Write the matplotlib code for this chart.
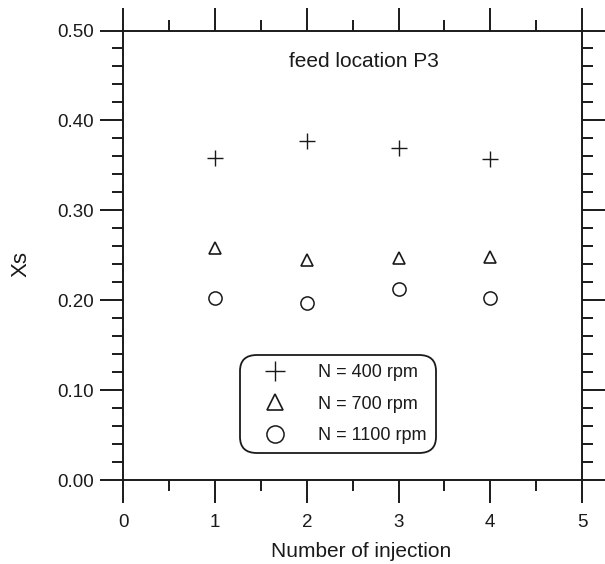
import matplotlib
matplotlib.use("Agg")
import matplotlib.pyplot as plt
from matplotlib.ticker import MultipleLocator, FormatStrFormatter

plt.rcParams['font.family'] = ['Liberation Sans', 'DejaVu Sans']

injections = [1, 2, 3, 4]
xs_400 = [0.358, 0.377, 0.369, 0.357]
xs_700 = [0.258, 0.245, 0.247, 0.248]
xs_1100 = [0.2025, 0.197, 0.2125, 0.2025]
labels = ["N = 400 rpm", "N = 700 rpm", "N = 1100 rpm"]
x_ticks = [0, 1, 2, 3, 4, 5]

fig = plt.figure(figsize=(6.05, 5.64), dpi=100)
ax = fig.add_axes([0.2041, 0.1489, 0.7579, 0.7970])
col = '#1a1a1a'

ax.plot(injections, xs_400, linestyle='none', marker='+', markersize=11,
        markeredgewidth=1.0, color=col, label=labels[0])
ax.plot(injections, xs_700, linestyle='none', marker='^', markersize=8.5,
        markeredgewidth=1.2, markerfacecolor='none', markeredgecolor=col, label=labels[1])
ax.plot(injections, xs_1100, linestyle='none', marker='o', markersize=9.5,
        markeredgewidth=1.1, markerfacecolor='none', markeredgecolor=col, label=labels[2])

ax.set_xlim(0, 5)
ax.set_ylim(0, 0.5)
ax.set_xticks(x_ticks)
ax.xaxis.set_minor_locator(MultipleLocator(0.5))
ax.yaxis.set_major_locator(MultipleLocator(0.1))
ax.yaxis.set_minor_locator(MultipleLocator(0.02))
ax.yaxis.set_major_formatter(FormatStrFormatter('%.2f'))

for s in ax.spines.values():
    s.set_linewidth(1.4)
    s.set_color(col)

ax.tick_params(which='both', direction='out', top=True, right=True,
               labeltop=False, labelright=False, color=col, width=1.4,
               labelsize=13.5, labelcolor=col)
ax.tick_params(which='major', length=16.5)
ax.tick_params(axis='x', which='major', pad=8)
ax.tick_params(axis='y', which='major', pad=5)
ax.tick_params(which='minor', length=8)

ax.set_xlabel("Number of injection", fontsize=15, color=col)
ax.xaxis.set_label_coords(0.518, -0.137)
ax.set_ylabel("Xs", fontsize=16, color=col)
ax.yaxis.set_label_coords(-0.20, 0.48)

ax.text(2.62, 0.465, "feed location P3", fontsize=15, color=col,
        ha='center', va='center')

leg = ax.legend(loc='center', bbox_to_anchor=(0.468, 0.169), fontsize=13,
                markerscale=1.3, handlelength=2.8, handletextpad=1.0,
                labelspacing=0.8, borderpad=0.5, fancybox=True,
                framealpha=1, edgecolor=col)
leg.get_frame().set_linewidth(1.3)
leg.get_frame().set_boxstyle('round,pad=0,rounding_size=0.9')
for t in leg.get_texts():
    t.set_color(col)

fig.savefig("out.png", dpi=100)
